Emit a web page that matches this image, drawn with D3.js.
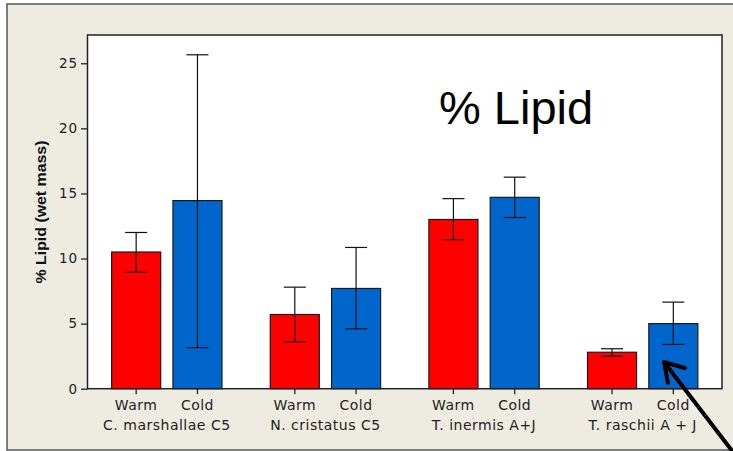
<!DOCTYPE html>
<html>
<head>
<meta charset="utf-8">
<script src="https://cdn.jsdelivr.net/npm/d3@7"></script>
<style>
  html, body { margin: 0; padding: 0; background: #ffffff; }
  svg { display: block; }
</style>
</head>
<body>
<svg id="chart" width="733" height="451"></svg>
<script>
// Species / life stage groups and the two temperature treatments
const groups = ["C. marshallae C5", "N. cristatus C5", "T. inermis A+J", "T. raschii A + J"];
const conditions = ["Warm", "Cold"];

// Mean % lipid (wet mass) with the lower / upper ends of each error bar
const warmMean = [10.5, 5.7, 13.0, 2.8];
const warmLow  = [8.95, 3.6, 11.45, 2.5];
const warmHigh = [12.0, 7.8, 14.6, 3.07];
const coldMean = [14.45, 7.7, 14.7, 5.0];
const coldLow  = [3.15, 4.6, 13.15, 3.4];
const coldHigh = [25.65, 10.85, 16.25, 6.65];

const yTicks = [0, 5, 10, 15, 20, 25];
const yMax = 27.17;
const title = "% Lipid";
const yLabel = "% Lipid (wet mass)";

const colors = { Warm: "#ff0000", Cold: "#0066cc" };

const svg = d3.select("#chart");
const W = 733, H = 451;
const plot = { left: 87.5, right: 722, top: 35, bottom: 388.7 };

// outer panel
svg.append("rect")
  .attr("x", 7).attr("y", 4)
  .attr("width", W + 10).attr("height", 446)
  .attr("fill", "#eeebe1")
  .attr("stroke", "#555555").attr("stroke-width", 1.5);

// plotting area
svg.append("rect")
  .attr("x", plot.left).attr("y", plot.top)
  .attr("width", plot.right - plot.left).attr("height", plot.bottom - plot.top)
  .attr("fill", "#ffffff");

const x0 = d3.scaleBand().domain(groups).range([plot.left, plot.right]).padding(0);
const x1 = d3.scaleBand().domain(conditions).range([0, x0.bandwidth()])
  .paddingInner(0.2).paddingOuter(0.394);
const y = d3.scaleLinear().domain([0, yMax]).range([plot.bottom, plot.top]);

const rows = [];
groups.forEach((g, i) => {
  rows.push({ group: g, cond: "Warm", mean: warmMean[i], lo: warmLow[i], hi: warmHigh[i] });
  rows.push({ group: g, cond: "Cold", mean: coldMean[i], lo: coldLow[i], hi: coldHigh[i] });
});
const cx = d => x0(d.group) + x1(d.cond) + x1.bandwidth() / 2;

// bars
svg.append("g").selectAll("rect").data(rows).join("rect")
  .attr("x", d => x0(d.group) + x1(d.cond))
  .attr("y", d => y(d.mean))
  .attr("width", x1.bandwidth())
  .attr("height", d => y(0) - y(d.mean))
  .attr("fill", d => colors[d.cond])
  .attr("stroke", "#1a1a1a").attr("stroke-width", 1.2);

// error bars
const eb = svg.append("g").attr("stroke", "#111").attr("stroke-width", 1.2);
eb.selectAll("line.v").data(rows).join("line").attr("class", "v")
  .attr("x1", cx).attr("x2", cx)
  .attr("y1", d => y(d.hi)).attr("y2", d => y(d.lo));
eb.selectAll("line.hi").data(rows).join("line").attr("class", "hi")
  .attr("x1", d => cx(d) - 11).attr("x2", d => cx(d) + 11)
  .attr("y1", d => y(d.hi)).attr("y2", d => y(d.hi));
eb.selectAll("line.lo").data(rows).join("line").attr("class", "lo")
  .attr("x1", d => cx(d) - 11).attr("x2", d => cx(d) + 11)
  .attr("y1", d => y(d.lo)).attr("y2", d => y(d.lo));

// frame of plotting area
svg.append("rect")
  .attr("x", plot.left).attr("y", plot.top)
  .attr("width", plot.right - plot.left).attr("height", plot.bottom - plot.top)
  .attr("fill", "none").attr("stroke", "#222").attr("stroke-width", 1.5);

// y axis
const yAxis = svg.append("g")
  .attr("transform", `translate(${plot.left},0)`)
  .call(d3.axisLeft(y).tickValues(yTicks).tickSize(6.5).tickPadding(4).tickFormat(d3.format("d")));
yAxis.select(".domain").remove();
yAxis.selectAll(".tick line").attr("stroke", "#222").attr("stroke-width", 1.3);
yAxis.selectAll(".tick text")
  .attr("fill", "#222")
  .style("font-family", "'DejaVu Sans', sans-serif")
  .style("font-size", "13.5px")
  .style("letter-spacing", "0.8px")
  .attr("dx", "0.8px");

// x ticks under each bar
svg.append("g").selectAll("line").data(rows).join("line")
  .attr("x1", cx).attr("x2", cx)
  .attr("y1", plot.bottom).attr("y2", plot.bottom + 5.5)
  .attr("stroke", "#222").attr("stroke-width", 1.3);

const labelFont = { family: "'DejaVu Sans', sans-serif", size: "14px" };

// treatment labels
svg.append("g").selectAll("text").data(rows).join("text")
  .attr("x", cx).attr("y", 410)
  .attr("text-anchor", "middle")
  .attr("fill", "#222")
  .style("font-family", labelFont.family).style("font-size", labelFont.size)
  .style("letter-spacing", "0.5px")
  .text(d => d.cond);

// group labels
svg.append("g").selectAll("text").data(groups).join("text")
  .attr("x", d => x0(d) + x0.bandwidth() / 2).attr("y", 430)
  .attr("text-anchor", "middle")
  .attr("fill", "#222")
  .style("font-family", labelFont.family).style("font-size", labelFont.size)
  .style("letter-spacing", "0.5px")
  .text(d => d);

// y axis title
svg.append("text")
  .attr("transform", "translate(45.5,212) rotate(-90)")
  .attr("text-anchor", "middle")
  .attr("fill", "#111")
  .style("font-family", "'Liberation Sans', Arial, sans-serif")
  .style("font-size", "15.5px").style("font-weight", "bold")
  .attr("textLength", 143).attr("lengthAdjust", "spacingAndGlyphs")
  .text(yLabel);

// chart title inside the plotting area
svg.append("text")
  .attr("x", 439).attr("y", 124)
  .attr("fill", "#000")
  .style("font-family", "'Liberation Sans', Arial, sans-serif")
  .style("font-size", "47px")
  .text(title);

// arrow pointing at the T. raschii cold bar
const tip = [664, 362];
const arrow = svg.append("g").attr("stroke", "#000").attr("stroke-width", 4)
  .attr("fill", "none").attr("stroke-linecap", "round").attr("stroke-linejoin", "round");
arrow.append("line")
  .attr("x1", 736).attr("y1", 456).attr("x2", tip[0]).attr("y2", tip[1]);
arrow.append("path")
  .attr("d", `M685,368 L${tip[0]},${tip[1]} L668,383`);
</script>
</body>
</html>
